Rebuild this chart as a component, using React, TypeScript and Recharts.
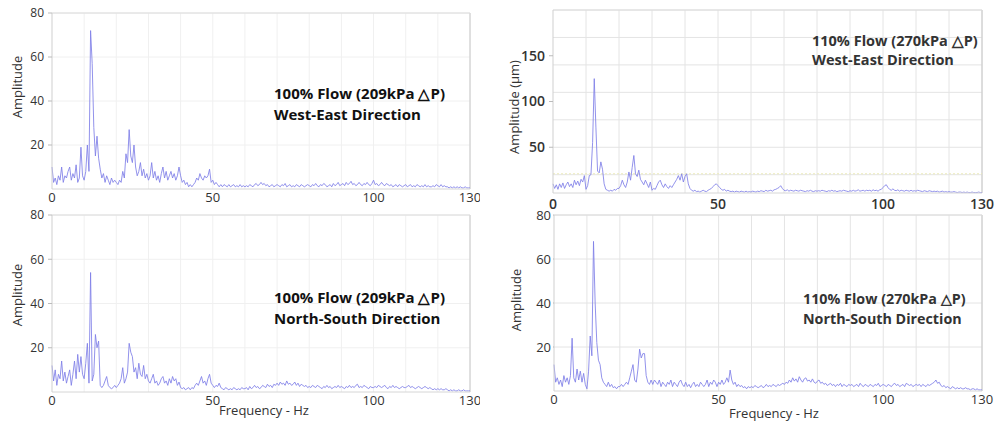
import React from 'react';
import { LineChart, Line, XAxis, YAxis, CartesianGrid, ReferenceLine } from 'recharts';

// FFT bins, 0.5 Hz apart, 0..130 Hz
const FREQ_STEP = 0.5;
const xTicks = [0, 50, 100, 130];

// 100% flow, West-East
const we100 = [
  10, 3, 5, 2, 6, 4, 10, 3, 6, 5, 8, 10, 4, 7, 5, 11, 3, 5, 19, 6,
  4, 8, 20, 8, 72, 57, 28, 15, 24, 14, 9, 5, 7, 3, 6, 4, 2, 5, 3, 4,
  3, 2, 4, 3, 8, 5, 16, 12, 27, 15, 12, 20, 10, 6, 8, 12, 6, 9, 5, 7,
  4, 6, 12, 5, 8, 4, 6, 3, 7, 10, 5, 8, 4, 6, 8, 5, 7, 4, 6, 10,
  6, 3, 4, 2, 3, 1, 2, 1, 2, 3, 5, 4, 7, 5, 4, 6, 5, 6, 9, 3,
  4, 2, 3, 2, 1, 2, 1, 2, 1.5, 1, 2, 1, 1.5, 2, 1, 1.5, 1, 2, 1, 1.5,
  1, 1.5, 1, 2, 1.5, 1, 2, 2.5, 1.5, 2, 3, 2, 2.5, 1.5, 2, 1, 1.5, 2, 1, 1.5,
  2, 1.5, 1, 2, 1.5, 2.5, 1, 1.5, 2, 1, 1.5, 1, 2, 1.5, 1, 2, 1.5, 1, 1.5, 2,
  1.5, 1, 2, 1.5, 2.5, 1.5, 1, 2, 1.5, 2.5, 2, 1, 1.5, 2, 1, 2.5, 1.5, 2, 3, 1.5,
  2, 2.5, 1.5, 3, 2, 2.5, 3.5, 2, 2.5, 1.5, 2, 3, 2, 1.5, 2.5, 2, 3, 2, 1.5, 2.5,
  4, 2, 2.5, 1.5, 2, 3, 2, 1.5, 2.5, 2, 1.5, 2, 1, 1.5, 2, 1, 2, 1.5, 1, 1.5,
  2, 1, 1.5, 2, 1, 1.5, 1, 2, 1.5, 1, 1.5, 1, 2, 1, 1.5, 1, 1, 1.5, 1, 2,
  1.5, 1, 2, 1, 1.5, 1, 1, 0.5, 1, 0.5, 1, 0.5, 1, 0.5, 1, 0.5, 0.5, 1, 0.5, 0.5, 0.5,
];

// 100% flow, North-South
const ns100 = [
  12, 5, 10, 3, 8, 6, 14, 5, 9, 4, 7, 10, 3, 8, 14, 6, 17, 9, 16, 8,
  6, 13, 22, 4, 54, 5, 8, 26, 20, 23, 3, 2, 3, 5, 7, 3, 2, 1.5, 2, 3,
  2, 3, 4, 6, 11, 4, 6, 9, 22, 18, 16, 9, 11, 6, 13, 8, 7, 12, 6, 8,
  5, 4, 6, 8, 4, 5, 3, 4, 6, 7, 4, 5, 3, 6, 4, 7, 5, 6, 3, 4.5,
  2, 1.5, 2, 1, 1.5, 2, 1, 2, 1.5, 3, 4, 3, 5, 7, 4, 5, 3, 6, 8, 4,
  3, 2, 3, 2.5, 4, 2, 1.5, 1, 2, 1.5, 1, 1.5, 1, 2, 1.5, 1, 1.5, 1, 2, 1.5,
  1.5, 2, 1, 2.5, 1.5, 2, 3, 2, 2.5, 1.5, 2, 3, 2.5, 2, 3.5, 2.5, 3, 2, 3.5, 3,
  4, 3, 4.5, 3.5, 4, 3, 5, 3.5, 4, 3, 3.5, 4.5, 3, 4, 2.5, 3.5, 3, 2.5, 3, 2,
  2.5, 2, 3, 2.5, 2, 3, 2.5, 2, 1.5, 2.5, 2, 3, 2, 2.5, 1.5, 2, 2.5, 2, 3, 2,
  2.5, 2, 1.5, 2.5, 2, 3, 2, 2.5, 2, 3, 3.5, 2, 2.5, 2, 3, 2.5, 2, 1.5, 2.5, 2,
  2, 2.5, 2, 3, 2.5, 2, 2.5, 3, 2, 1.5, 2.5, 2, 3, 2, 2.5, 2, 1.5, 2, 2.5, 2,
  2, 2.5, 3, 2, 2.5, 2, 1.5, 2, 2.5, 2, 1.5, 2, 2.5, 2, 1.5, 2, 1.5, 1, 1.5, 1,
  1.5, 1, 1.5, 1, 1, 1.5, 1, 0.5, 1, 0.5, 1, 0.5, 0.5, 1, 0.5, 0.5, 1, 0.5, 0.5, 0.5, 0.5,
];

// 110% flow, West-East (um)
const we110 = [
  10, 5, 9, 4, 10, 6, 11, 5, 9, 12, 7, 10, 6, 14, 9, 13, 8, 15, 12, 19,
  4, 8, 19, 20, 55, 125, 72, 24, 22, 34, 26, 10, 4, 3, 2, 3, 2, 4, 3, 5,
  5, 8, 14, 9, 6, 12, 23, 14, 28, 41, 21, 18, 25, 15, 12, 9, 14, 10, 6, 12,
  3, 5, 4, 8, 12, 14, 9, 6, 10, 7, 5, 8, 6, 9, 12, 15, 19, 14, 21, 12,
  18, 21, 10, 5, 3, 2, 3, 1.5, 2, 1, 2, 3, 2, 1.5, 3, 4, 5, 7, 9, 10,
  8, 6, 4, 3, 4, 2, 3, 2, 1.5, 2, 1, 2, 1.5, 1, 2, 1.5, 1, 2, 1, 1.5,
  1, 2, 1.5, 1, 2, 1.5, 2.5, 2, 1.5, 3, 2, 2.5, 3, 2, 3.5, 4, 5, 6, 8, 5,
  3, 2.5, 3.5, 2, 3, 2.5, 2, 3, 2.5, 2, 3, 2.5, 2, 1.5, 2.5, 2, 3, 2, 1.5, 2.5,
  2, 2.5, 2, 3, 2.5, 2, 1.5, 2.5, 2, 3, 2, 2.5, 1.5, 2, 2.5, 2, 3, 2.5, 2, 1.5,
  2.5, 2, 3, 2, 2.5, 3.5, 2, 2.5, 3, 2, 3, 2.5, 3, 2, 3.5, 2.5, 3, 2, 3.5, 4,
  6, 8, 9, 6, 4, 3, 4.5, 3, 2.5, 3.5, 2, 3, 2.5, 2, 3, 2.5, 2, 3, 2, 2.5,
  2, 3, 2.5, 2, 1.5, 2.5, 2, 1.5, 2.5, 2, 1.5, 2, 1.5, 2, 1, 1.5, 2, 1, 1.5, 1,
  1.5, 1, 1, 1.5, 1, 0.5, 1, 1, 0.5, 1, 0.5, 1, 0.5, 0.5, 1, 0.5, 0.5, 0.5, 1, 0.5, 0.5,
];

// 110% flow, North-South
const ns110 = [
  12, 4, 6, 3, 5, 2, 7, 4, 6, 3, 7, 24, 6, 4, 10, 5, 9, 4, 8, 3,
  1, 9, 25, 16, 68, 40, 22, 14, 12, 6, 4, 3, 2, 4, 2, 3, 1.5, 2, 1, 2,
  2, 3, 2, 3, 4, 3, 6, 9, 12, 5, 4, 10, 19, 15, 17, 17, 7, 4, 3, 5,
  3, 5, 4, 3, 5, 2, 4, 3, 2, 4, 3, 5, 2, 4, 3, 2, 4, 5, 3, 2,
  4, 2, 3, 1.5, 3, 4, 2, 3, 2, 4, 3, 2, 3, 5, 2, 4, 3, 5, 4, 2,
  4, 3, 5, 3, 4, 6, 4, 9.5, 5, 3, 4, 2, 3, 2, 2.5, 1.5, 2, 1, 2, 1.5,
  2, 1.5, 2.5, 2, 1.5, 2, 2.5, 1.5, 2, 3, 2, 2.5, 2, 3, 2.5, 2, 3, 2.5, 3, 3.5,
  3, 4, 3.5, 5, 4, 6, 4.5, 5.5, 4, 6.5, 5, 4, 5.5, 6, 4.5, 5, 4, 5.5, 4, 3.5,
  4.5, 5, 3.5, 4, 3, 3.5, 2.5, 3, 3.5, 2.5, 3, 2, 3, 2.5, 3.5, 2, 3, 2.5, 2, 3,
  2.5, 3, 2, 2.5, 3, 2, 3.5, 2.5, 2, 3, 2.5, 2, 3, 2.5, 2, 3, 2.5, 3.5, 2, 2.5,
  3, 2.5, 2, 3, 2.5, 2, 3, 3.5, 2.5, 3, 2, 2.5, 3, 2, 3.5, 3, 2.5, 3, 2, 2.5,
  3, 2.5, 3, 2, 3, 2.5, 2, 3, 2.5, 3, 3.5, 4, 5, 3.5, 4, 2.5, 2, 2.5, 1.5, 2,
  1.5, 1, 2, 1.5, 1, 1.5, 1, 1.5, 1, 1, 1.5, 1, 1, 0.5, 1, 1, 0.5, 1, 0.5, 0.5, 0.5,
];

const toRows = (amps: number[]) => amps.map((a, i) => ({ f: i * FREQ_STEP, a }));
const steps = (step: number, max: number) => {
  const out: number[] = [];
  for (let v = step; v <= max; v += step) out.push(v);
  return out;
};

const FONT = '"Open Sans", sans-serif';

const Panel = ({ amps, box, margin, yMax, yTicks, grid, xTick, yTick, ySize, yMargin, xSize, xMargin, band }: any) => (
  <div style={{ position: 'absolute', left: box[0], top: box[1] }}>
    <LineChart width={box[2]} height={box[3]} data={toRows(amps)} margin={margin}>
      <CartesianGrid
        stroke={grid}
        horizontalValues={steps(10, yMax)}
        verticalValues={steps(10, 130)}
      />
      <XAxis
        dataKey="f"
        type="number"
        domain={[0, 130]}
        ticks={xTicks}
        height={20}
        tickLine={false}
        tickSize={xSize}
        tickMargin={xMargin}
        axisLine={{ stroke: '#d6d6d6' }}
        tick={{ fontFamily: FONT, fill: '#333', ...xTick }}
      />
      <YAxis
        type="number"
        domain={[0, yMax]}
        ticks={yTicks}
        width={40}
        tickSize={ySize}
        tickMargin={yMargin}
        axisLine={{ stroke: '#cfcfcf' }}
        tickLine={{ stroke: '#bbb' }}
        tick={{ fontFamily: FONT, fill: '#333', ...yTick }}
      />
      <ReferenceLine x={130} stroke="#c8c8c8" />
      <ReferenceLine y={yMax} stroke="#dcdcdc" />
      {band ? <ReferenceLine y={band} stroke="#ecebb8" strokeDasharray="2 2" /> : null}
      <Line
        type="linear"
        dataKey="a"
        stroke="#7f7fe8"
        strokeOpacity={0.85}
        strokeWidth={1}
        dot={false}
        isAnimationActive={false}
      />
    </LineChart>
  </div>
);

const Note = ({ x, y, size, lh, color, lines }: any) => (
  <div
    style={{
      position: 'absolute',
      left: x,
      top: y,
      fontSize: size,
      lineHeight: lh + 'px',
      fontWeight: 700,
      color,
      whiteSpace: 'pre',
    }}
  >
    {lines.map((l: string) => (
      <div key={l}>{l}</div>
    ))}
  </div>
);

const VTitle = ({ x, y, text }: any) => (
  <div
    style={{
      position: 'absolute',
      left: x,
      top: y,
      fontSize: 13,
      color: '#333',
      whiteSpace: 'nowrap',
      transform: 'translate(-50%, -50%) rotate(-90deg)',
    }}
  >
    {text}
  </div>
);

const HTitle = ({ x, y, text }: any) => (
  <div
    style={{
      position: 'absolute',
      left: x,
      top: y,
      fontSize: 13,
      color: '#333',
      whiteSpace: 'nowrap',
      transform: 'translate(-50%, -50%)',
    }}
  >
    {text}
  </div>
);

export default function App() {
  return (
    <div
      style={{
        position: 'absolute',
        left: 0,
        top: 0,
        width: 999,
        height: 423,
        background: '#fff',
        fontFamily: FONT,
        overflow: 'hidden',
      }}
    >
      <Panel
        amps={we100}
        box={[0, 0, 480, 209]}
        margin={{ top: 13, right: 10, left: 12, bottom: 0 }}
        yMax={80}
        yTicks={[20, 40, 60, 80]}
        grid="#f0f0f0"
        xTick={{ fontSize: 13 }}
        yTick={{ fontSize: 12 }}
        ySize={4}
        yMargin={4}
        xSize={2}
        xMargin={2}
      />
      <Panel
        amps={ns100}
        box={[0, 205, 480, 207]}
        margin={{ top: 10, right: 10, left: 12, bottom: 0 }}
        yMax={80}
        yTicks={[20, 40, 60, 80]}
        grid="#f0f0f0"
        xTick={{ fontSize: 13 }}
        yTick={{ fontSize: 12 }}
        ySize={4}
        yMargin={4}
        xSize={2}
        xMargin={2}
      />
      <Panel
        amps={we110}
        box={[510, 0, 489, 213]}
        margin={{ top: 10, right: 17, left: 3, bottom: 0 }}
        yMax={200}
        yTicks={[50, 100, 150]}
        grid="#e4e4e4"
        xTick={{ fontSize: 14, fontWeight: 600 }}
        yTick={{ fontSize: 14, fontWeight: 600 }}
        ySize={4}
        yMargin={4}
        xSize={3}
        xMargin={3}
        band={21}
      />
      <Panel
        amps={ns110}
        box={[510, 205, 489, 206]}
        margin={{ top: 10, right: 17, left: 4, bottom: 0 }}
        yMax={80}
        yTicks={[20, 40, 60, 80]}
        grid="#e4e4e4"
        xTick={{ fontSize: 13 }}
        yTick={{ fontSize: 13 }}
        ySize={1}
        yMargin={2}
        xSize={2}
        xMargin={2}
      />

      <VTitle x={17} y={87} text="Amplitude" />
      <VTitle x={17} y={295} text="Amplitude" />
      <VTitle x={514} y={107} text="Amplitude (μm)" />
      <VTitle x={516} y={300} text="Amplitude" />
      <HTitle x={264} y={410} text="Frequency - Hz" />
      <HTitle x={774} y={413} text="Frequency - Hz" />

      <Note x={274} y={83} size={15} lh={21} color="#111" lines={['100% Flow (209kPa △P)', 'West-East Direction']} />
      <Note x={274} y={287} size={15} lh={21} color="#111" lines={['100% Flow (209kPa △P)', 'North-South Direction']} />
      <Note x={812} y={31} size={14.5} lh={19} color="#333" lines={['110% Flow (270kPa △P)', 'West-East Direction']} />
      <Note x={803} y={289} size={14.3} lh={20} color="#333" lines={['110% Flow (270kPa △P)', 'North-South Direction']} />
    </div>
  );
}
